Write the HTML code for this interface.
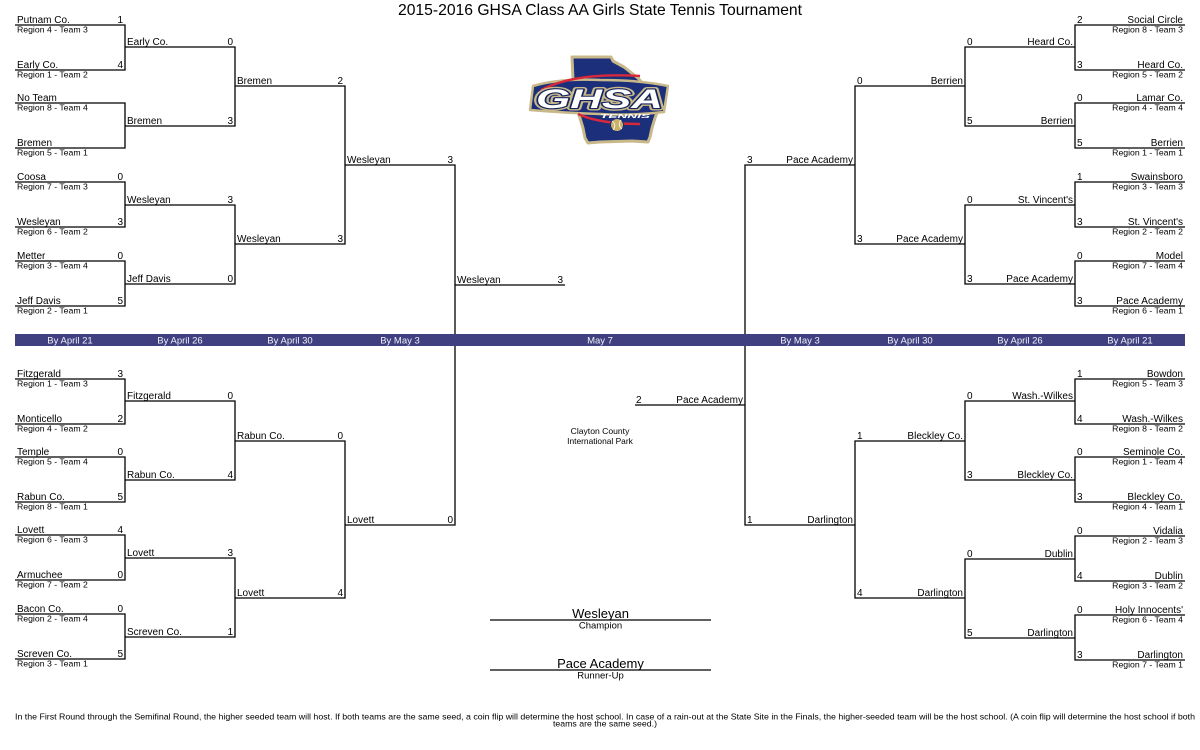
<!DOCTYPE html>
<html>
<head>
<meta charset="utf-8">
<style>
  html,body{margin:0;padding:0;background:#fff;}
  svg{display:block;}
  text{font-family:"Liberation Sans",Arial,sans-serif;fill:#000;}
  .n{font-size:10px;}
  .r{font-size:8.7px;}
  .e{text-anchor:end;}
  .m{text-anchor:middle;}
  .b{font-size:9.5px;fill:#f0f0f6;text-anchor:middle;}
</style>
</head>
<body>
<svg width="1200" height="750" viewBox="0 0 1200 750" xmlns="http://www.w3.org/2000/svg">
<rect x="0" y="0" width="1200" height="750" fill="#fff"/>

<!-- Title -->
<text x="600" y="15" class="m" style="font-size:15.7px">2015-2016 GHSA Class AA Girls State Tennis Tournament</text>

<!-- Bracket lines -->
<path fill="none" stroke="#000" stroke-width="1.3" d="
M15 25H125V70H15 M15 103H125V148H15 M15 182H125V227H15 M15 261H125V306H15
M125 47H235V126H125 M125 205H235V284H125
M235 86H345V244H235
M345 165H455V525H345
M455 285H565
M15 379H125V424H15 M15 457H125V502H15 M15 535H125V580H15 M15 614H125V659H15
M125 401H235V480H125 M125 558H235V637H125
M235 441H345V598H235
M1185 25H1075V70H1185 M1185 103H1075V148H1185 M1185 182H1075V227H1185 M1185 261H1075V306H1185
M1075 47H965V126H1075 M1075 205H965V284H1075
M965 86H855V244H965
M855 165H745V525H855
M745 405H635
M1185 379H1075V424H1185 M1185 457H1075V502H1185 M1185 536H1075V581H1185 M1185 615H1075V660H1185
M1075 401H965V480H1075 M1075 559H965V638H1075
M965 441H855V598H965
M490 620H711 M490 670H711
"/>

<!-- Band -->
<rect x="15" y="334" width="1170" height="12" fill="#404080"/>
<text x="70" y="343.5" class="b">By April 21</text>
<text x="180" y="343.5" class="b">By April 26</text>
<text x="290" y="343.5" class="b">By April 30</text>
<text x="400" y="343.5" class="b">By May 3</text>
<text x="600" y="343.5" class="b">May 7</text>
<text x="800" y="343.5" class="b">By May 3</text>
<text x="910" y="343.5" class="b">By April 30</text>
<text x="1020" y="343.5" class="b">By April 26</text>
<text x="1130" y="343.5" class="b">By April 21</text>

<!-- LEFT TOP R1 -->
<text x="17" y="23" class="n">Putnam Co.</text><text x="123" y="23" class="n e">1</text><text x="17" y="32.5" class="r">Region 4 - Team 3</text>
<text x="17" y="68" class="n">Early Co.</text><text x="123" y="68" class="n e">4</text><text x="17" y="77.5" class="r">Region 1 - Team 2</text>
<text x="17" y="101" class="n">No Team</text><text x="17" y="110.5" class="r">Region 8 - Team 4</text>
<text x="17" y="146" class="n">Bremen</text><text x="17" y="155.5" class="r">Region 5 - Team 1</text>
<text x="17" y="180" class="n">Coosa</text><text x="123" y="180" class="n e">0</text><text x="17" y="189.5" class="r">Region 7 - Team 3</text>
<text x="17" y="225" class="n">Wesleyan</text><text x="123" y="225" class="n e">3</text><text x="17" y="234.5" class="r">Region 6 - Team 2</text>
<text x="17" y="259" class="n">Metter</text><text x="123" y="259" class="n e">0</text><text x="17" y="268.5" class="r">Region 3 - Team 4</text>
<text x="17" y="304" class="n">Jeff Davis</text><text x="123" y="304" class="n e">5</text><text x="17" y="313.5" class="r">Region 2 - Team 1</text>
<!-- LEFT TOP R2 -->
<text x="127" y="45" class="n">Early Co.</text><text x="233" y="45" class="n e">0</text>
<text x="127" y="124" class="n">Bremen</text><text x="233" y="124" class="n e">3</text>
<text x="127" y="203" class="n">Wesleyan</text><text x="233" y="203" class="n e">3</text>
<text x="127" y="282" class="n">Jeff Davis</text><text x="233" y="282" class="n e">0</text>
<!-- R3 -->
<text x="237" y="84" class="n">Bremen</text><text x="343" y="84" class="n e">2</text>
<text x="237" y="242" class="n">Wesleyan</text><text x="343" y="242" class="n e">3</text>
<!-- R4 -->
<text x="347" y="163" class="n">Wesleyan</text><text x="453" y="163" class="n e">3</text>
<!-- Final left -->
<text x="457" y="283" class="n">Wesleyan</text><text x="563" y="283" class="n e">3</text>

<!-- LEFT BOTTOM R1 -->
<text x="17" y="377" class="n">Fitzgerald</text><text x="123" y="377" class="n e">3</text><text x="17" y="386.5" class="r">Region 1 - Team 3</text>
<text x="17" y="422" class="n">Monticello</text><text x="123" y="422" class="n e">2</text><text x="17" y="431.5" class="r">Region 4 - Team 2</text>
<text x="17" y="455" class="n">Temple</text><text x="123" y="455" class="n e">0</text><text x="17" y="464.5" class="r">Region 5 - Team 4</text>
<text x="17" y="500" class="n">Rabun Co.</text><text x="123" y="500" class="n e">5</text><text x="17" y="509.5" class="r">Region 8 - Team 1</text>
<text x="17" y="533" class="n">Lovett</text><text x="123" y="533" class="n e">4</text><text x="17" y="542.5" class="r">Region 6 - Team 3</text>
<text x="17" y="578" class="n">Armuchee</text><text x="123" y="578" class="n e">0</text><text x="17" y="587.5" class="r">Region 7 - Team 2</text>
<text x="17" y="612" class="n">Bacon Co.</text><text x="123" y="612" class="n e">0</text><text x="17" y="621.5" class="r">Region 2 - Team 4</text>
<text x="17" y="657" class="n">Screven Co.</text><text x="123" y="657" class="n e">5</text><text x="17" y="666.5" class="r">Region 3 - Team 1</text>
<!-- R2 -->
<text x="127" y="399" class="n">Fitzgerald</text><text x="233" y="399" class="n e">0</text>
<text x="127" y="478" class="n">Rabun Co.</text><text x="233" y="478" class="n e">4</text>
<text x="127" y="556" class="n">Lovett</text><text x="233" y="556" class="n e">3</text>
<text x="127" y="635" class="n">Screven Co.</text><text x="233" y="635" class="n e">1</text>
<!-- R3 -->
<text x="237" y="439" class="n">Rabun Co.</text><text x="343" y="439" class="n e">0</text>
<text x="237" y="596" class="n">Lovett</text><text x="343" y="596" class="n e">4</text>
<!-- R4 -->
<text x="347" y="523" class="n">Lovett</text><text x="453" y="523" class="n e">0</text>

<!-- RIGHT TOP R1 -->
<text x="1077" y="23" class="n">2</text><text x="1183" y="23" class="n e">Social Circle</text><text x="1183" y="32.5" class="r e">Region 8 - Team 3</text>
<text x="1077" y="68" class="n">3</text><text x="1183" y="68" class="n e">Heard Co.</text><text x="1183" y="77.5" class="r e">Region 5 - Team 2</text>
<text x="1077" y="101" class="n">0</text><text x="1183" y="101" class="n e">Lamar Co.</text><text x="1183" y="110.5" class="r e">Region 4 - Team 4</text>
<text x="1077" y="146" class="n">5</text><text x="1183" y="146" class="n e">Berrien</text><text x="1183" y="155.5" class="r e">Region 1 - Team 1</text>
<text x="1077" y="180" class="n">1</text><text x="1183" y="180" class="n e">Swainsboro</text><text x="1183" y="189.5" class="r e">Region 3 - Team 3</text>
<text x="1077" y="225" class="n">3</text><text x="1183" y="225" class="n e">St. Vincent's</text><text x="1183" y="234.5" class="r e">Region 2 - Team 2</text>
<text x="1077" y="259" class="n">0</text><text x="1183" y="259" class="n e">Model</text><text x="1183" y="268.5" class="r e">Region 7 - Team 4</text>
<text x="1077" y="304" class="n">3</text><text x="1183" y="304" class="n e">Pace Academy</text><text x="1183" y="313.5" class="r e">Region 6 - Team 1</text>
<!-- R2 -->
<text x="967" y="45" class="n">0</text><text x="1073" y="45" class="n e">Heard Co.</text>
<text x="967" y="124" class="n">5</text><text x="1073" y="124" class="n e">Berrien</text>
<text x="967" y="203" class="n">0</text><text x="1073" y="203" class="n e">St. Vincent's</text>
<text x="967" y="282" class="n">3</text><text x="1073" y="282" class="n e">Pace Academy</text>
<!-- R3 -->
<text x="857" y="84" class="n">0</text><text x="963" y="84" class="n e">Berrien</text>
<text x="857" y="242" class="n">3</text><text x="963" y="242" class="n e">Pace Academy</text>
<!-- R4 -->
<text x="747" y="163" class="n">3</text><text x="853" y="163" class="n e">Pace Academy</text>
<!-- Final right -->
<text x="636" y="403" class="n">2</text><text x="743" y="403" class="n e">Pace Academy</text>

<!-- RIGHT BOTTOM R1 -->
<text x="1077" y="377" class="n">1</text><text x="1183" y="377" class="n e">Bowdon</text><text x="1183" y="386.5" class="r e">Region 5 - Team 3</text>
<text x="1077" y="422" class="n">4</text><text x="1183" y="422" class="n e">Wash.-Wilkes</text><text x="1183" y="431.5" class="r e">Region 8 - Team 2</text>
<text x="1077" y="455" class="n">0</text><text x="1183" y="455" class="n e">Seminole Co.</text><text x="1183" y="464.5" class="r e">Region 1 - Team 4</text>
<text x="1077" y="500" class="n">3</text><text x="1183" y="500" class="n e">Bleckley Co.</text><text x="1183" y="509.5" class="r e">Region 4 - Team 1</text>
<text x="1077" y="534" class="n">0</text><text x="1183" y="534" class="n e">Vidalia</text><text x="1183" y="543.5" class="r e">Region 2 - Team 3</text>
<text x="1077" y="579" class="n">4</text><text x="1183" y="579" class="n e">Dublin</text><text x="1183" y="588.5" class="r e">Region 3 - Team 2</text>
<text x="1077" y="613" class="n">0</text><text x="1183" y="613" class="n e">Holy Innocents'</text><text x="1183" y="622.5" class="r e">Region 6 - Team 4</text>
<text x="1077" y="658" class="n">3</text><text x="1183" y="658" class="n e">Darlington</text><text x="1183" y="667.5" class="r e">Region 7 - Team 1</text>
<!-- R2 -->
<text x="967" y="399" class="n">0</text><text x="1073" y="399" class="n e">Wash.-Wilkes</text>
<text x="967" y="478" class="n">3</text><text x="1073" y="478" class="n e">Bleckley Co.</text>
<text x="967" y="557" class="n">0</text><text x="1073" y="557" class="n e">Dublin</text>
<text x="967" y="636" class="n">5</text><text x="1073" y="636" class="n e">Darlington</text>
<!-- R3 -->
<text x="857" y="439" class="n">1</text><text x="963" y="439" class="n e">Bleckley Co.</text>
<text x="857" y="596" class="n">4</text><text x="963" y="596" class="n e">Darlington</text>
<!-- R4 -->
<text x="747" y="523" class="n">1</text><text x="853" y="523" class="n e">Darlington</text>

<!-- Venue -->
<text x="600" y="434" class="m" style="font-size:8.6px">Clayton County</text>
<text x="600" y="444" class="m" style="font-size:8.4px">International Park</text>

<!-- Champion / Runner-up -->
<text x="600.5" y="618" class="m" style="font-size:13px">Wesleyan</text>
<text x="600.5" y="628.5" class="m" style="font-size:9.5px">Champion</text>
<text x="600.5" y="668" class="m" style="font-size:13px">Pace Academy</text>
<text x="600.5" y="678.5" class="m" style="font-size:9.5px">Runner-Up</text>

<!-- Footer -->
<text x="15" y="719.5" style="font-size:8.3px" textLength="1180" lengthAdjust="spacingAndGlyphs">In the First Round through the Semifinal Round, the higher seeded team will host. If both teams are the same seed, a coin flip will determine the host school. In case of a rain-out at the State Site in the Finals, the higher-seeded team will be the host school.  (A coin flip will determine the host school if both</text>
<text x="553" y="726.5" style="font-size:8.3px" textLength="104" lengthAdjust="spacingAndGlyphs">teams are the same seed.)</text>

<!-- Logo -->
<g>
  <path d="M572 57 L611 57 L613 61 L624 67 L638 78 L648 90 L655 102 L658 110 L655 118 L652 128 L650 137 L648 142 L632 141 L600 142 L588 143 L585 138 L583 128 L579 115 L576 100 L573 80 Z"
        fill="#1b2f7a" stroke="#c9b98a" stroke-width="3" stroke-linejoin="round"/>
  <path d="M533 86 Q560 78 600 80 Q640 80 668 86 L664 112 Q630 116 600 114 Q565 113 530 110 Z"
        fill="#1b2f7a" stroke="#c9b98a" stroke-width="2.5" stroke-linejoin="round"/>
  <path d="M541 90 Q575 72 640 76" fill="none" stroke="#d8283a" stroke-width="2.4"/>
  <path d="M578 114 Q600 124 640 124" fill="none" stroke="#d8283a" stroke-width="2.4"/>
  <text x="536" y="108" textLength="127" lengthAdjust="spacingAndGlyphs"
        style="font-size:27px;font-weight:bold;font-style:italic;fill:#c9b98a;stroke:#c9b98a;stroke-width:5;stroke-linejoin:round">GHSA</text>
  <text x="536" y="108" textLength="127" lengthAdjust="spacingAndGlyphs"
        style="font-size:27px;font-weight:bold;font-style:italic;fill:#ffffff;stroke:#14245e;stroke-width:2.2;paint-order:stroke;stroke-linejoin:round">GHSA</text>
  <text x="600" y="118" textLength="50" lengthAdjust="spacingAndGlyphs"
        style="font-size:5.5px;font-weight:bold;font-style:italic;fill:#ffffff">TENNIS</text>
  <circle cx="617" cy="125" r="6.5" fill="#c9b36a" stroke="#1b2f7a" stroke-width="1"/>
  <path d="M612 121 Q617 125 613 130 M621 120 Q617 125 622 129" fill="none" stroke="#ffffff" stroke-width="0.8"/>
</g>
</svg>
</body>
</html>
